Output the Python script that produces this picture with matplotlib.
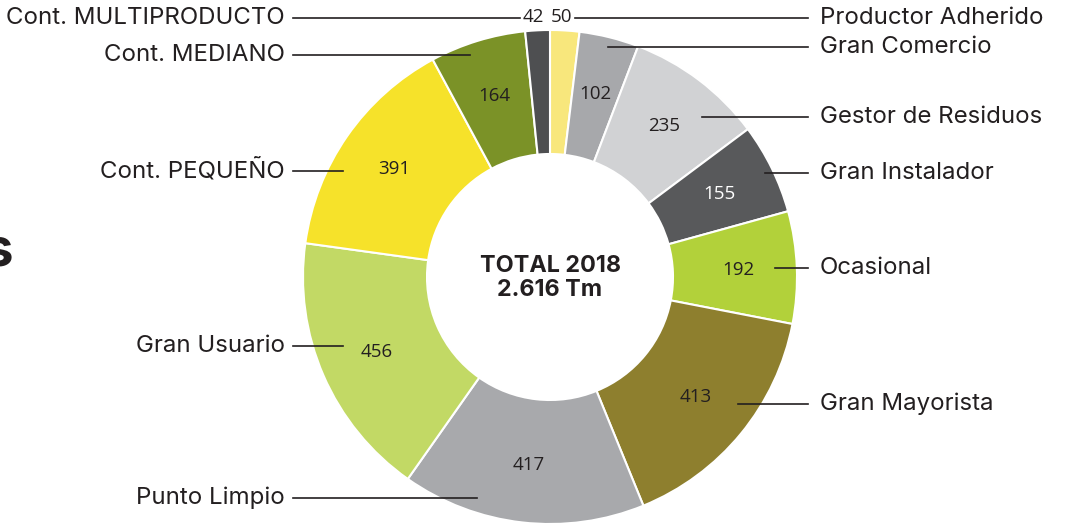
import matplotlib.pyplot as plt
import numpy as np

# data, clockwise from the top
categorias = ["Productor Adherido", "Gran Comercio", "Gestor de Residuos", "Gran Instalador",
              "Ocasional", "Gran Mayorista", "Punto Limpio", "Gran Usuario",
              "Cont. PEQUEÑO", "Cont. MEDIANO", "Cont. MULTIPRODUCTO"]
toneladas = [50, 102, 235, 155, 192, 413, 417, 456, 391, 164, 42]
colores = ["#f8e77c", "#a7a8ab", "#d1d2d4", "#58595b", "#b2d13a", "#8e7f2e",
           "#a8a9ac", "#c2d965", "#f6e22a", "#7b9227", "#4e4f51"]
total_texto = "TOTAL 2018\n2.616 Tm"

# layout (pixels, y from top)
W, H = 1070, 524
cx, cy, r = 550, 277, 247
# label y, line inner x, side
etiquetas = {
    "Productor Adherido": (18, 575, "r"),
    "Gran Comercio": (47, 608, "r"),
    "Gestor de Residuos": (117, 702, "r"),
    "Gran Instalador": (173, 765, "r"),
    "Ocasional": (268, 775, "r"),
    "Gran Mayorista": (404, 738, "r"),
    "Punto Limpio": (498, 477, "l"),
    "Gran Usuario": (346, 343, "l"),
    "Cont. PEQUEÑO": (171, 343, "l"),
    "Cont. MEDIANO": (55, 470, "l"),
    "Cont. MULTIPRODUCTO": (18, 520, "l"),
}


def main():
    fig = plt.figure(figsize=(W / 100, H / 100), dpi=100)
    ax = fig.add_axes([0, 0, 1, 1])
    ax.set_xlim(0, W)
    ax.set_ylim(0, H)
    ax.set_aspect("equal")
    ax.axis("off")

    wedges, _ = ax.pie(toneladas, colors=colores, startangle=90, counterclock=False,
                       center=(cx, H - cy), radius=r,
                       wedgeprops=dict(width=124, edgecolor="white", linewidth=1.5))
    ax.set_xlim(0, W)
    ax.set_ylim(0, H)

    # value labels inside the ring
    for w, v in zip(wedges, toneladas):
        ang = np.deg2rad((w.theta1 + w.theta2) / 2)
        if v < 60:
            continue
        x = cx + 189 * np.cos(ang)
        y = H - cy + 189 * np.sin(ang)
        col = "white" if w.get_facecolor()[0] < 0.4 else "#231f20"
        ax.text(x, y, str(v), ha="center", va="center", fontsize=13.5,
                family="Open Sans", fontweight="medium", color=col)

    # the two small slices are labelled above the ring
    ax.text(544, H - 17, str(toneladas[10]), ha="right", va="center", fontsize=13.5,
            family="Open Sans", fontweight="medium", color="#231f20")
    ax.text(551, H - 17, str(toneladas[0]), ha="left", va="center", fontsize=13.5,
            family="Open Sans", fontweight="medium", color="#231f20")

    # category labels with leader lines
    for nombre in categorias:
        y, xi, lado = etiquetas[nombre]
        yy = H - y
        if lado == "r":
            ax.plot([xi, 808], [yy, yy], color="#231f20", lw=1.2)
            ax.text(820, yy, nombre, ha="left", va="center", fontsize=17.3,
                    family="Inter", color="#231f20")
        else:
            ax.plot([293, xi], [yy, yy], color="#231f20", lw=1.2)
            ax.text(285, yy, nombre, ha="right", va="center", fontsize=17.3,
                    family="Inter", color="#231f20")

    ax.text(cx, H - 278, total_texto, ha="center", va="center", fontsize=16.8,
            fontweight="bold", family="Inter", color="#231f20", linespacing=1.15)

    # cropped title letter at the left edge
    ax.text(13, H - 252, "s", ha="right", va="center", fontsize=38,
            fontweight="bold", family="Inter", color="#231f20")

    fig.savefig("out.png", dpi=100)


if __name__ == "__main__":
    main()
